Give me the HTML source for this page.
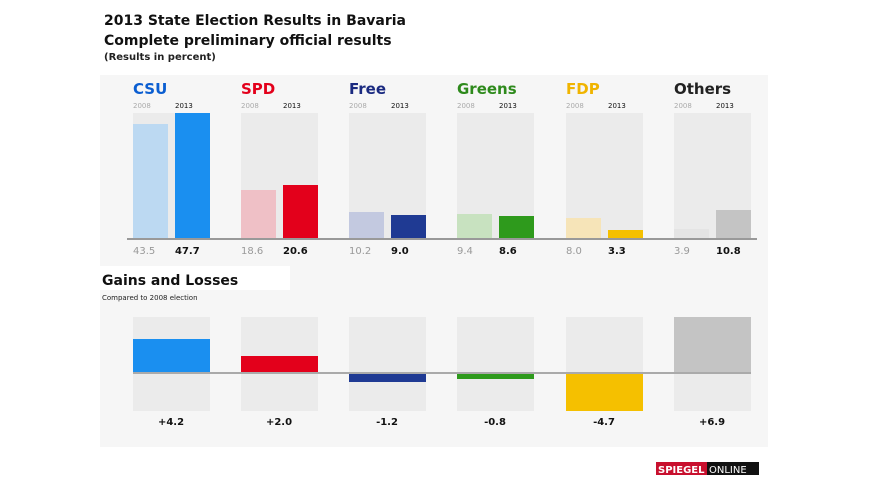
<!DOCTYPE html>
<html><head><meta charset="utf-8"><style>body{margin:0;background:#fff}svg{display:block}text{font-family:"DejaVu Sans","Liberation Sans",sans-serif}</style></head>
<body>
<svg width="875" height="500" viewBox="0 0 875 500">
<rect x="100" y="75" width="668" height="372" fill="#f6f6f6"/>
<text x="104" y="25" font-size="14" font-weight="bold" fill="#111">2013 State Election Results in Bavaria</text>
<text x="104" y="45" font-size="14" font-weight="bold" fill="#111">Complete preliminary official results</text>
<text x="104" y="60" font-size="10" font-weight="bold" fill="#222">(Results in percent)</text>
<g font-size="15" font-weight="bold">
<text x="133" y="94" fill="#0b5ed1">CSU</text>
<text x="241" y="94" fill="#e3001b">SPD</text>
<text x="349" y="94" fill="#1a2a80">Free</text>
<text x="457" y="94" fill="#2e8a1c">Greens</text>
<text x="566" y="94" fill="#f0b400">FDP</text>
<text x="674" y="94" fill="#222">Others</text>
</g>
<g font-size="7">
<g fill="#aaa"><text x="133" y="108">2008</text><text x="241" y="108">2008</text><text x="349" y="108">2008</text><text x="457" y="108">2008</text><text x="566" y="108">2008</text><text x="674" y="108">2008</text></g>
<g fill="#111"><text x="175" y="108">2013</text><text x="283" y="108">2013</text><text x="391" y="108">2013</text><text x="499" y="108">2013</text><text x="608" y="108">2013</text><text x="716" y="108">2013</text></g>
</g>
<g fill="#ebebeb">
<rect x="133" y="113" width="77" height="126"/><rect x="241" y="113" width="77" height="126"/><rect x="349" y="113" width="77" height="126"/><rect x="457" y="113" width="77" height="126"/><rect x="566" y="113" width="77" height="126"/><rect x="674" y="113" width="77" height="126"/>
</g>
<rect x="133" y="124" width="35" height="115" fill="#bcd9f2"/><rect x="175" y="113" width="35" height="126" fill="#1a8ff0"/>
<rect x="241" y="190" width="35" height="49" fill="#efc0c6"/><rect x="283" y="185" width="35" height="54" fill="#e3001b"/>
<rect x="349" y="212" width="35" height="27" fill="#c3c9e0"/><rect x="391" y="215" width="35" height="24" fill="#1f3a93"/>
<rect x="457" y="214" width="35" height="25" fill="#c8e2c0"/><rect x="499" y="216" width="35" height="23" fill="#2e9a1c"/>
<rect x="566" y="218" width="35" height="21" fill="#f6e4b8"/><rect x="608" y="230" width="35" height="9" fill="#f5c000"/>
<rect x="674" y="229" width="35" height="10" fill="#e4e4e4"/><rect x="716" y="210" width="35" height="29" fill="#c4c4c4"/>
<rect x="127" y="238" width="630" height="2" fill="#999"/>
<g font-size="10">
<g fill="#999"><text x="133" y="254">43.5</text><text x="241" y="254">18.6</text><text x="349" y="254">10.2</text><text x="457" y="254">9.4</text><text x="566" y="254">8.0</text><text x="674" y="254">3.9</text></g>
<g fill="#111" font-weight="bold"><text x="175" y="254">47.7</text><text x="283" y="254">20.6</text><text x="391" y="254">9.0</text><text x="499" y="254">8.6</text><text x="608" y="254">3.3</text><text x="716" y="254">10.8</text></g>
</g>
<rect x="100" y="266" width="190" height="24" fill="#fff"/>
<text x="102" y="285" font-size="14" font-weight="bold" fill="#111">Gains and Losses</text>
<text x="102" y="300" font-size="7" fill="#222">Compared to 2008 election</text>
<g fill="#ebebeb">
<rect x="133" y="317" width="77" height="94"/><rect x="241" y="317" width="77" height="94"/><rect x="349" y="317" width="77" height="94"/><rect x="457" y="317" width="77" height="94"/><rect x="566" y="317" width="77" height="94"/><rect x="674" y="317" width="77" height="94"/>
</g>
<rect x="133" y="339" width="77" height="34" fill="#1a8ff0"/>
<rect x="241" y="356" width="77" height="17" fill="#e3001b"/>
<rect x="349" y="373" width="77" height="9" fill="#1f3a93"/>
<rect x="457" y="373" width="77" height="6" fill="#2e9a1c"/>
<rect x="566" y="373" width="77" height="38" fill="#f5c000"/>
<rect x="674" y="317" width="77" height="56" fill="#c4c4c4"/>
<rect x="133" y="372" width="618" height="2" fill="#aaa"/>
<g font-size="10" font-weight="bold" fill="#111" text-anchor="middle">
<text x="171" y="425">+4.2</text><text x="279" y="425">+2.0</text><text x="387" y="425">-1.2</text><text x="495" y="425">-0.8</text><text x="604" y="425">-4.7</text><text x="712" y="425">+6.9</text>
</g>
<rect x="656" y="462" width="51" height="13" fill="#c8102e"/>
<text x="658" y="473" font-size="10" font-weight="bold" fill="#fff" font-family="Liberation Serif,serif">SPIEGEL</text>
<rect x="707" y="462" width="52" height="13" fill="#111"/>
<text x="709" y="473" font-size="10" fill="#fff" font-family="Liberation Serif,serif">ONLINE</text>
</svg>
</body></html>
